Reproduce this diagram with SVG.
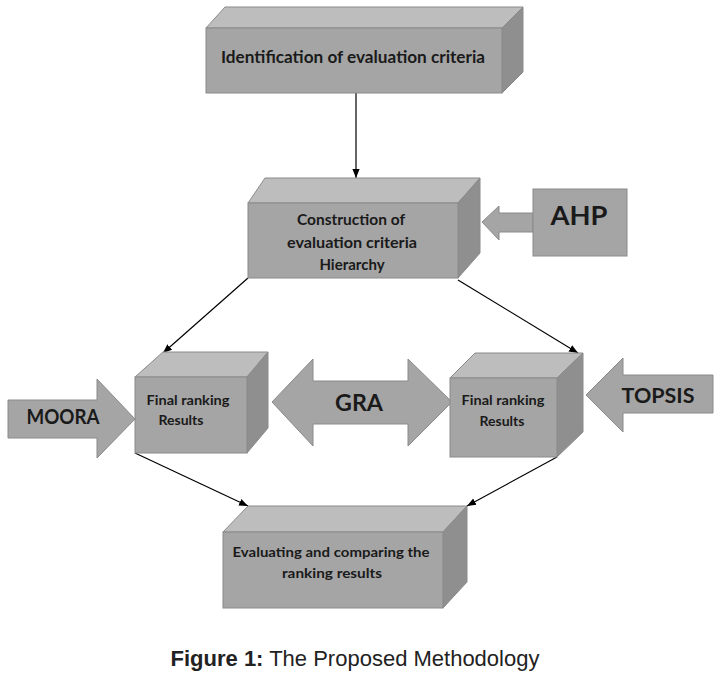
<svg xmlns="http://www.w3.org/2000/svg" width="723" height="687" viewBox="0 0 723 687">
<defs>
<style>
.front{fill:#a5a5a5;stroke:#8a8a8a;stroke-width:1}
.top{fill:#bdbdbd;stroke:#8a8a8a;stroke-width:1}
.side{fill:#8f8f8f;stroke:#8a8a8a;stroke-width:1}
.arr{fill:#a5a5a5;stroke:#8a8a8a;stroke-width:1}
.t{font-family:Lato,"Liberation Sans",sans-serif;font-weight:bold;fill:#1a1a1a;text-anchor:middle}
.conn{stroke:#000;stroke-width:1.2;fill:none;marker-end:url(#ah)}
.cap{font-family:"Liberation Sans",Arial,sans-serif;font-size:22px;fill:#222}
</style>
<marker id="ah" viewBox="0 0 10 10" refX="10" refY="5" markerWidth="9" markerHeight="9" markerUnits="userSpaceOnUse" orient="auto">
<path d="M0,1 L10,5 L0,9 Z" fill="#000"/>
</marker>
</defs>
<rect width="723" height="687" fill="#fff"/>

<g id="connectors">
<line class="conn" x1="356" y1="93" x2="356" y2="178"/>
<line class="conn" x1="248" y1="278" x2="163" y2="353"/>
<line class="conn" x1="458" y1="280" x2="578" y2="353"/>
<line class="conn" x1="135" y1="453" x2="248" y2="506"/>
<line class="conn" x1="557" y1="457" x2="467" y2="506"/>
</g>

<g id="n1">
<polygon class="top" points="206,28 225,7 523,7 502,28"/>
<polygon class="side" points="502,28 523,7 523,72 502,93"/>
<rect class="front" x="206" y="28" width="296" height="65"/>
<text class="t" x="353" y="63" font-size="17" textLength="264" lengthAdjust="spacingAndGlyphs">Identification of evaluation criteria</text>
</g>

<g id="n2">
<polygon class="top" points="248,203 265,178 480,178 458,203"/>
<polygon class="side" points="458,203 480,178 480,253 458,278"/>
<rect class="front" x="248" y="203" width="210" height="75"/>
<text class="t" x="351" y="225" font-size="15" textLength="108" lengthAdjust="spacingAndGlyphs">Construction of</text>
<text class="t" x="352" y="248" font-size="15" textLength="130" lengthAdjust="spacingAndGlyphs">evaluation criteria</text>
<text class="t" x="352" y="270" font-size="15">Hierarchy</text>
</g>

<g id="ahp">
<polygon class="arr" points="533,213 499,213 499,206 482,222 499,240 499,232 533,232"/>
<rect class="front" x="533" y="189" width="94" height="67"/>
<text class="t" x="579" y="225" font-size="26" textLength="57" lengthAdjust="spacingAndGlyphs">AHP</text>
</g>

<g id="n3">
<polygon class="top" points="135,377 163,352 268,352 247,377"/>
<polygon class="side" points="247,377 268,352 268,428 247,453"/>
<rect class="front" x="135" y="377" width="112" height="76"/>
<text class="t" x="188" y="405" font-size="14" textLength="83" lengthAdjust="spacingAndGlyphs">Final ranking</text>
<text class="t" x="181" y="425" font-size="14">Results</text>
</g>

<g id="moora">
<polygon class="arr" points="8,400 97,400 97,379 135,419 97,458 97,438 8,438"/>
<text class="t" x="63" y="424" font-size="20" textLength="73" lengthAdjust="spacingAndGlyphs">MOORA</text>
</g>

<g id="gra">
<polygon class="arr" points="272,402 313,359 313,381 408,381 408,359 452,402 408,446 408,424 313,424 313,446"/>
<text class="t" x="359" y="411" font-size="22" textLength="48" lengthAdjust="spacingAndGlyphs">GRA</text>
</g>

<g id="n4">
<polygon class="top" points="450,378 475,353 583,353 557,378"/>
<polygon class="side" points="557,378 583,353 583,432 557,457"/>
<rect class="front" x="450" y="378" width="107" height="79"/>
<text class="t" x="503" y="405" font-size="14" textLength="83" lengthAdjust="spacingAndGlyphs">Final ranking</text>
<text class="t" x="502" y="426" font-size="14">Results</text>
</g>

<g id="topsis">
<polygon class="arr" points="713,375 623,375 623,358 586,395 623,432 623,413 713,413"/>
<text class="t" x="658" y="403" font-size="20" textLength="73" lengthAdjust="spacingAndGlyphs">TOPSIS</text>
</g>

<g id="n5">
<polygon class="top" points="223,532 248,506 467,506 443,532"/>
<polygon class="side" points="443,532 467,506 467,582 443,608"/>
<rect class="front" x="223" y="532" width="220" height="76"/>
<text class="t" x="331" y="557" font-size="14" textLength="197" lengthAdjust="spacingAndGlyphs">Evaluating and comparing the</text>
<text class="t" x="332" y="578" font-size="14" textLength="100" lengthAdjust="spacingAndGlyphs">ranking results</text>
</g>

<text class="cap" x="355" y="666" text-anchor="middle"><tspan font-weight="bold">Figure 1:</tspan> The Proposed Methodology</text>
</svg>
